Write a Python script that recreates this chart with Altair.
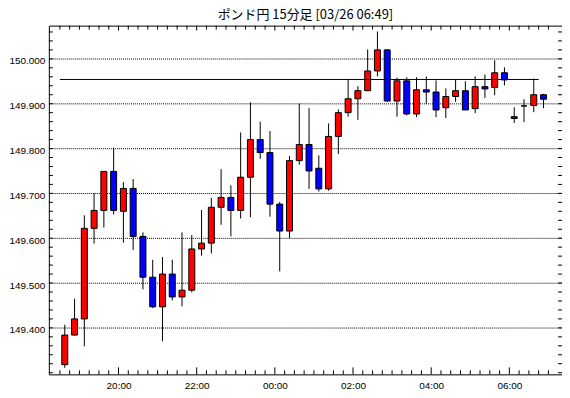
import altair as alt
import pandas as pd
import numpy as np

title_text = "ポンド円 15分足 [03/26 06:49]"

opens = [149.318, 149.384, 149.420, 149.622, 149.662, 149.749, 149.660, 149.711, 149.604, 149.513,
         149.447, 149.520, 149.469, 149.484, 149.576, 149.589, 149.669, 149.691, 149.662, 149.736,
         149.820, 149.791, 149.676, 149.616, 149.773, 149.809, 149.756, 149.710, 149.827, 149.880,
         149.911, 149.929, 149.973, 150.020, 149.906, 149.951, 149.877, 149.931, 149.926, 149.891,
         149.916, 149.929, 149.889, 149.938, 149.936, 149.969, 149.871, 149.895, 149.896, 149.920]
highs = [149.407, 149.465, 149.651, 149.700, 149.749, 149.802, 149.725, 149.732, 149.613, 149.552,
         149.558, 149.552, 149.613, 149.607, 149.663, 149.690, 149.754, 149.718, 149.836, 149.903,
         149.860, 149.839, 149.681, 149.783, 149.900, 149.890, 149.785, 149.856, 149.887, 149.954,
         149.939, 150.021, 150.061, 150.022, 149.958, 149.959, 149.959, 149.961, 149.952, 149.934,
         149.953, 149.950, 149.961, 149.965, 149.997, 149.981, 149.892, 149.910, 149.956, 149.922]
lows = [149.311, 149.383, 149.359, 149.588, 149.624, 149.653, 149.590, 149.574, 149.486, 149.444,
        149.370, 149.461, 149.448, 149.479, 149.561, 149.566, 149.630, 149.604, 149.644, 149.647,
        149.777, 149.648, 149.526, 149.600, 149.764, 149.710, 149.704, 149.706, 149.788, 149.871,
        149.864, 149.929, 149.961, 149.904, 149.871, 149.874, 149.870, 149.900, 149.870, 149.868,
        149.904, 149.886, 149.879, 149.913, 149.919, 149.941, 149.857, 149.859, 149.881, 149.890]
closes = [149.384, 149.420, 149.622, 149.662, 149.749, 149.662, 149.711, 149.604, 149.513, 149.447,
          149.520, 149.469, 149.484, 149.576, 149.589, 149.669, 149.691, 149.662, 149.736, 149.820,
          149.791, 149.676, 149.616, 149.773, 149.809, 149.750, 149.710, 149.827, 149.880, 149.911,
          149.929, 149.973, 150.020, 149.906, 149.951, 149.877, 149.931, 149.926, 149.886, 149.916,
          149.929, 149.886, 149.938, 149.933, 149.969, 149.953, 149.867, 149.895, 149.920, 149.910]

tick_labels = ["20:00", "22:00", "00:00", "02:00", "04:00", "06:00"]
tick_pos = [5.5, 13.5, 21.5, 29.5, 37.5, 45.5]
y_labels = [149.4, 149.5, 149.6, 149.7, 149.8, 149.9, 150.0]
ref_level = 149.954
ref_span = [-0.5, 48.5]

W, H = 515, 350
FONT = "Liberation Sans"

n = len(opens)
df = pd.DataFrame({"i": list(range(n)), "o": opens, "h": highs, "l": lows, "c": closes})

xs = alt.Scale(domain=[-1.12, 50.38], nice=False, zero=False)
ys = alt.Scale(domain=[149.2963, 150.0741], nice=False, zero=False)

label_expr = " : ".join(f"datum.value == {p} ? '{t}'" for p, t in zip(tick_pos, tick_labels)) + " : ''"

x_axis = alt.Axis(values=tick_pos, labelExpr=label_expr, grid=False, ticks=False, domain=False,
                  labelFont=FONT, labelFontSize=10, labelColor="black", labelPadding=6,
                  labelFlush=False, title=None)
y_axis = alt.Axis(values=y_labels, format=".3f", grid=True, gridDash=[1, 1], gridColor="black",
                  gridOpacity=1, gridWidth=1, ticks=False, domain=False, labelFont=FONT,
                  labelFontSize=10, labelColor="black", labelPadding=4, labelOffset=2, title=None)


def X(field):
    return alt.X(field, scale=xs, axis=x_axis)


def Y(field):
    return alt.Y(field, scale=ys, axis=y_axis)


base = alt.Chart(df)
wicks = base.mark_rule(color="black", strokeWidth=1).encode(
    x=X("i:Q"), y=Y("l:Q"), y2="h:Q",
)
bodies = base.mark_bar(size=6, stroke="black", strokeWidth=1).encode(
    x=X("i:Q"), y=Y("o:Q"), y2="c:Q",
    fill=alt.condition("datum.c >= datum.o", alt.value("#ff0000"), alt.value("#0000ff")),
)

ref_df = pd.DataFrame({"x0": [ref_span[0]], "x1": [ref_span[1]], "v": [ref_level]})
ref = alt.Chart(ref_df).mark_rule(color="black", strokeWidth=1).encode(
    x=X("x0:Q"), x2="x1:Q", y=Y("v:Q"),
)

ytick_vals = np.round(np.arange(149.30, 150.0701, 0.02), 2)
ytdf = pd.DataFrame({"v": ytick_vals})
yt_left = alt.Chart(ytdf).mark_rule(color="black").encode(
    y=Y("v:Q"), x=alt.value(0), x2=alt.value(4))
yt_right = alt.Chart(ytdf).mark_rule(color="black").encode(
    y=Y("v:Q"), x=alt.value(W - 4), x2=alt.value(W))

minor_x = [p for p in np.arange(-0.5, 50.0, 1.0) if p not in tick_pos]
xminor = pd.DataFrame({"p": minor_x})
xmajor = pd.DataFrame({"p": tick_pos})
xt_bot_minor = alt.Chart(xminor).mark_rule(color="black").encode(
    x=X("p:Q"), y=alt.value(H - 4), y2=alt.value(H))
xt_top_minor = alt.Chart(xminor).mark_rule(color="black").encode(
    x=X("p:Q"), y=alt.value(0), y2=alt.value(4))
xt_bot_major = alt.Chart(xmajor).mark_rule(color="black").encode(
    x=X("p:Q"), y=alt.value(H - 7), y2=alt.value(H))
xt_top_major = alt.Chart(xmajor).mark_rule(color="black").encode(
    x=X("p:Q"), y=alt.value(0), y2=alt.value(5))

chart = alt.layer(
    wicks, bodies, ref, yt_left, yt_right, xt_bot_minor, xt_top_minor, xt_bot_major, xt_top_major
).properties(
    width=W, height=H,
    title=alt.TitleParams(title_text, font="Noto Sans CJK JP", fontSize=13, fontWeight="normal",
                          color="black", anchor="middle", offset=3),
    autosize=alt.AutoSizeParams(type="none"),
    padding={"left": 41, "top": 17, "right": 0, "bottom": 20},
    background="white",
).configure_view(stroke="black", strokeWidth=1)

chart.save("out.html", embed_options={"renderer": "svg", "actions": False})
